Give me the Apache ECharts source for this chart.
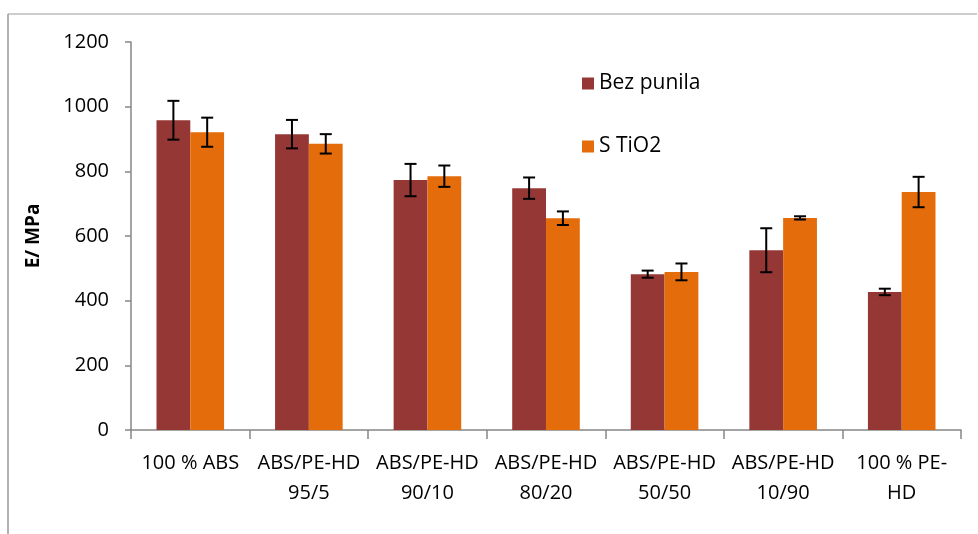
<!DOCTYPE html>
<html>
<head>
<meta charset="utf-8">
<script src="https://cdn.jsdelivr.net/npm/echarts@6/dist/echarts.min.js"></script>
<style>html,body{margin:0;padding:0;background:#fff}#c{width:978px;height:534px}</style>
</head>
<body>
<div id="c"></div>
<script>
const categories = ['100 % ABS', 'ABS/PE-HD\n95/5', 'ABS/PE-HD\n90/10', 'ABS/PE-HD\n80/20', 'ABS/PE-HD\n50/50', 'ABS/PE-HD\n10/90', '100 % PE-\nHD'];
const seriesNames = ['Bez punila', 'S TiO2'];
const bezPunila = [958, 915, 773, 748, 482, 556, 427];
const bezPunilaErr = [60, 44, 50, 33, 11, 68, 10];
const sTiO2 = [921, 885, 785, 655, 489, 656, 736];
const sTiO2Err = [45, 30, 33, 21, 26, 5, 47];
const yTicks = [0, 200, 400, 600, 800, 1000, 1200];

const colors = ['#953735', '#E46C0A'];
const catGap = 0.43;
const font = '"Open Sans", Lato, sans-serif';

function errSeries(vals, errs, idx) {
  return {
    type: 'custom',
    name: seriesNames[idx] + ' err',
    z: 10,
    data: vals.map((v, i) => [i, v, errs[i]]),
    renderItem: function (params, api) {
      const i = api.value(0), v = api.value(1), e = api.value(2);
      const band = api.size([1, 0])[0];
      const bw = band * (1 - catGap) / 2;
      const c = api.coord([i, v]);
      const x = c[0] + (idx === 0 ? -bw / 2 : bw / 2);
      const top = api.coord([i, v + e])[1];
      const bot = api.coord([i, v - e])[1];
      const cap = 6;
      const st = { stroke: '#000', lineWidth: 2 };
      return {
        type: 'group',
        children: [
          { type: 'line', shape: { x1: x, y1: top, x2: x, y2: bot }, style: st },
          { type: 'line', shape: { x1: x - cap, y1: top, x2: x + cap, y2: top }, style: st },
          { type: 'line', shape: { x1: x - cap, y1: bot, x2: x + cap, y2: bot }, style: st }
        ]
      };
    },
    tooltip: { show: false }
  };
}

const chart = echarts.init(document.getElementById('c'), null, { renderer: 'canvas' });
chart.setOption({
  animation: false,
  textStyle: { fontFamily: font },
  graphic: [
    { type: 'line', shape: { x1: 8, y1: 14, x2: 977, y2: 14 }, style: { stroke: '#bdbdbd', lineWidth: 1.5 } },
    { type: 'line', shape: { x1: 8, y1: 14, x2: 8, y2: 534 }, style: { stroke: '#9a9a9a', lineWidth: 1.5 } }
  ],
  grid: { left: 131, right: 17, top: 42, bottom: 104 },
  legend: {
    orient: 'vertical',
    left: 577, top: 68,
    itemWidth: 12, itemHeight: 12, itemGap: 42,
    icon: 'rect',
    data: seriesNames,
    textStyle: { fontSize: 21, color: '#000', fontFamily: font, padding: [0, 0, 0, 0] }
  },
  xAxis: {
    type: 'category',
    data: categories,
    axisLine: { lineStyle: { color: '#868686', width: 1.5 } },
    axisTick: { show: true, alignWithLabel: false, length: 9, lineStyle: { color: '#868686', width: 1.5 } },
    axisLabel: { color: '#000', fontSize: 20, lineHeight: 30, margin: 18, interval: 0, fontFamily: font }
  },
  yAxis: {
    type: 'value',
    min: yTicks[0], max: yTicks[yTicks.length - 1], interval: 200,
    name: 'E/ MPa',
    nameLocation: 'middle',
    nameGap: 88,
    nameTextStyle: { fontSize: 19, fontWeight: 'bold', color: '#000', fontFamily: font },
    axisLine: { show: true, lineStyle: { color: '#868686', width: 1.5 } },
    axisTick: { show: true, length: 6, lineStyle: { color: '#868686', width: 1.5 } },
    axisLabel: { color: '#000', fontSize: 20, margin: 22, fontFamily: font, formatter: v => String(v) },
    splitLine: { show: false }
  },
  series: [
    { type: 'bar', name: seriesNames[0], data: bezPunila, itemStyle: { color: colors[0] }, barGap: '0%', barCategoryGap: (catGap * 100) + '%' },
    { type: 'bar', name: seriesNames[1], data: sTiO2, itemStyle: { color: colors[1] }, barGap: '0%', barCategoryGap: (catGap * 100) + '%' },
    errSeries(bezPunila, bezPunilaErr, 0),
    errSeries(sTiO2, sTiO2Err, 1)
  ]
});
</script>
</body>
</html>
